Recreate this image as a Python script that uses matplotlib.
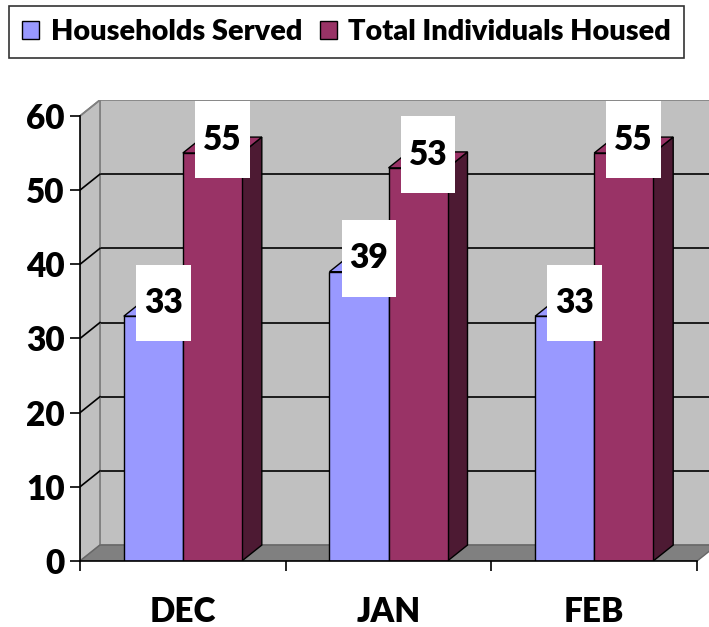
import matplotlib.pyplot as plt
from matplotlib.patches import Polygon, Rectangle, Patch

plt.rcParams['font.family'] = ['Lato', 'DejaVu Sans']
plt.rcParams['font.weight'] = 'heavy'

# data
months = ['DEC', 'JAN', 'FEB']
households = [33, 39, 33]
individuals = [55, 53, 55]
series_names = ['Households Served', 'Total Individuals Housed']
yticks = [0, 10, 20, 30, 40, 50, 60]

blue = '#9999ff'
blue_side = '#4d4d80'
red = '#993366'
red_side = '#4d1a33'
wall = '#c0c0c0'
floor = '#808080'
fw = 'heavy'

# depth of the fake 3d box, in data units
ddx = 0.097
ddy = 2.15
w = 0.287

fig = plt.figure(figsize=(7.09, 6.27), dpi=100)
ax = fig.add_axes([80 / 709, 66 / 627, 637 / 709, 461 / 627])
ax.set_xlim(-0.5, 2.5 + ddx)
ax.set_ylim(0, 60 + ddy)
ax.patch.set_visible(False)

x0, x1 = -0.5, 2.5
# back wall, side wall, floor
ax.add_patch(Rectangle((x0 + ddx, ddy), x1 - x0, 60, facecolor=wall, edgecolor='#808080', lw=1.2, zorder=0))
ax.add_patch(Polygon([(x0, 0), (x0, 60), (x0 + ddx, 60 + ddy), (x0 + ddx, ddy)],
                     closed=True, facecolor=wall, edgecolor='#808080', lw=1.2, zorder=0.5))
ax.add_patch(Polygon([(x0, 0), (x1, 0), (x1 + ddx, ddy), (x0 + ddx, ddy)],
                     closed=True, facecolor=floor, edgecolor='#666666', lw=1, zorder=0.6))

# gridlines on the walls
for t in yticks[1:-1]:
    ax.plot([x0 + ddx, x1 + ddx], [t + ddy, t + ddy], color='black', lw=1.2, zorder=0.4)
    ax.plot([x0, x0 + ddx], [t, t + ddy], color='black', lw=1.2, zorder=0.7)
ax.plot([x0, x0 + ddx], [60, 60 + ddy], color='#808080', lw=1.2, zorder=0.7)


def bar3d(xc, v, face, side):
    ax.bar(xc, v, width=w, color=face, edgecolor='black', lw=1, zorder=2)
    l, r = xc - w / 2, xc + w / 2
    ax.add_patch(Polygon([(r, 0), (r, v), (r + ddx, v + ddy), (r + ddx, ddy)],
                         closed=True, facecolor=side, edgecolor='black', lw=1, zorder=1.9))
    ax.add_patch(Polygon([(l, v), (r, v), (r + ddx, v + ddy), (l + ddx, v + ddy)],
                         closed=True, facecolor=face, edgecolor='black', lw=1, zorder=1.9))


def label(xc, v):
    bw, bh = 0.267, 10.3
    cx, cy = xc + ddx / 2, v + 1.8
    ax.add_patch(Rectangle((cx - bw / 2, cy - bh / 2), bw, bh, facecolor='white',
                           edgecolor='none', zorder=5))
    ax.text(cx, cy, str(v), ha='center', va='center', fontsize=24,
            fontweight=fw, zorder=6)


for i in range(len(months)):
    bar3d(i - w / 2, households[i], blue, blue_side)
    bar3d(i + w / 2, individuals[i], red, red_side)
for i in range(len(months)):
    label(i - w / 2, households[i])
    label(i + w / 2, individuals[i])

# axes
for s in ['top', 'right']:
    ax.spines[s].set_visible(False)
ax.spines['left'].set_bounds(0, 60)
ax.spines['bottom'].set_bounds(x0, x1)
ax.spines['left'].set_linewidth(1.2)
ax.spines['bottom'].set_linewidth(1.2)
ax.spines['left'].set_zorder(3)
ax.spines['bottom'].set_zorder(3)
ax.set_yticks(yticks)
ax.tick_params(axis='y', length=7, width=1.2, pad=4, labelsize=24)
ax.set_xticks([-0.5, 0.5, 1.5, 2.5])
ax.set_xticklabels([])
ax.set_xticks(range(len(months)), minor=True)
ax.set_xticklabels(months, minor=True, fontsize=24, fontweight=fw)
ax.tick_params(axis='x', which='major', length=7, width=1.2)
ax.tick_params(axis='x', which='minor', length=0, pad=25)
for lab in ax.get_yticklabels():
    lab.set_fontweight(fw)

handles = [Patch(facecolor=blue, edgecolor='black'), Patch(facecolor=red, edgecolor='black')]
leg = fig.legend(handles, series_names, loc='upper left', bbox_to_anchor=(9 / 709, 1 - 6 / 627),
                 ncol=2, fontsize=20.8, frameon=True, fancybox=False, edgecolor='black',
                 handlelength=0.6, handleheight=0.6, handletextpad=0.4, columnspacing=0.6,
                 borderpad=0.45, borderaxespad=0)
leg.get_frame().set_linewidth(1.2)
for t in leg.get_texts():
    t.set_fontweight(fw)

fig.savefig('out.png', dpi=100)
